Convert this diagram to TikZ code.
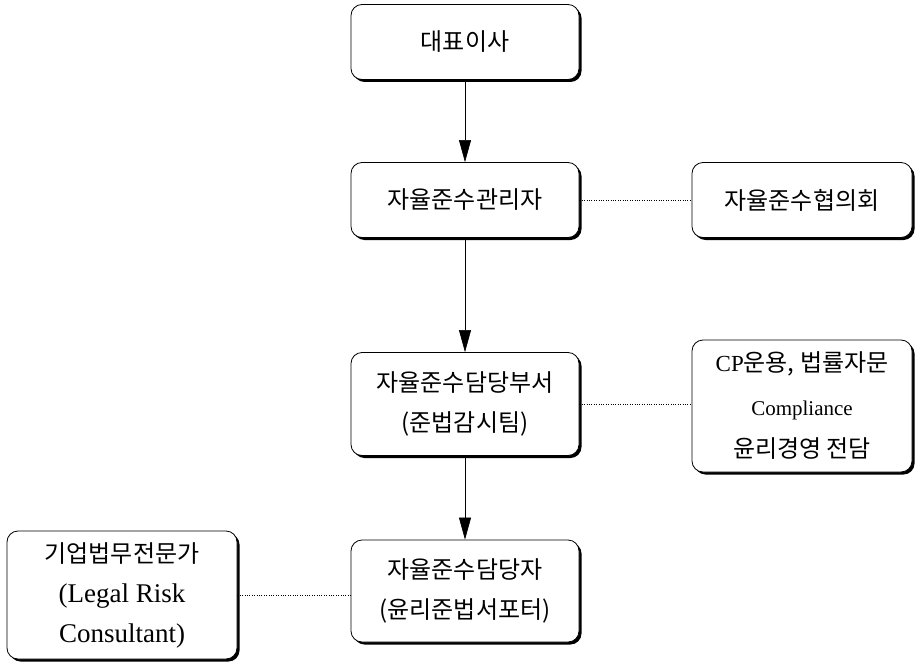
\documentclass[tikz,border=0pt]{standalone}
\usepackage{fontspec}
\setmainfont{Liberation Serif}
\newfontfamily\krfont{Noto Sans CJK KR}
\newcommand\kr{\krfont\fontsize{24}{40}\selectfont}
\usetikzlibrary{arrows.meta,shadows}

\tikzset{
  orgbox/.style={draw, thick, rounded corners=11pt, fill=white, align=center,
    font=\fontsize{21}{40}\selectfont,
    drop shadow={shadow xshift=2.5pt, shadow yshift=-2.5pt, fill=black, opacity=1}},
  link/.style={dotted, thin},
  down/.style={-{Triangle[length=22pt,width=12pt]}, semithick}
}

\begin{document}
\begin{tikzpicture}[x=1pt,y=-1pt]
    \useasboundingbox (0,0) rectangle (915,666);
    \node[orgbox, minimum width=228pt, minimum height=75pt] (ceo) at (465,42) {\kr 대표이사};
    \node[orgbox, minimum width=228pt, minimum height=75pt] (mgr) at (465,200) {\kr 자율준수관리자};
    \node[orgbox, minimum width=220pt, minimum height=75pt] (council) at (802,200) {\kr 자율준수협의회};
    \node[orgbox, minimum width=228pt, minimum height=103pt] (dept) at (465,404) {\kr 자율준수담당부서\\\kr (준법감시팀)};
    \node[orgbox, minimum width=220pt, minimum height=132pt] (task) at (802,406)
      {\fontsize{23}{40}\selectfont CP{\kr 운용, 법률자문}\\[4pt]Compliance\\[2pt]\kr 윤리경영 전담};
    \node[orgbox, minimum width=230pt, minimum height=128pt] (expert) at (122,595)
      {{\kr 기업법무전문가}\\\fontsize{27}{38}\selectfont (Legal Risk\\\fontsize{27}{38}\selectfont Consultant)};
    \node[orgbox, minimum width=228pt, minimum height=102pt] (officer) at (465,591) {\kr 자율준수담당자\\\kr (윤리준법서포터)};
    \draw[down] (ceo) -- (mgr);
    \draw[down] (mgr) -- (dept);
    \draw[down] (dept) -- (officer);
    \draw[link] (mgr) -- (council);
    \draw[link] (dept.east) -- (dept.east -| task.west);
    \draw[link] (expert.east) -- (expert.east -| officer.west);
  \end{tikzpicture}
\end{document}
